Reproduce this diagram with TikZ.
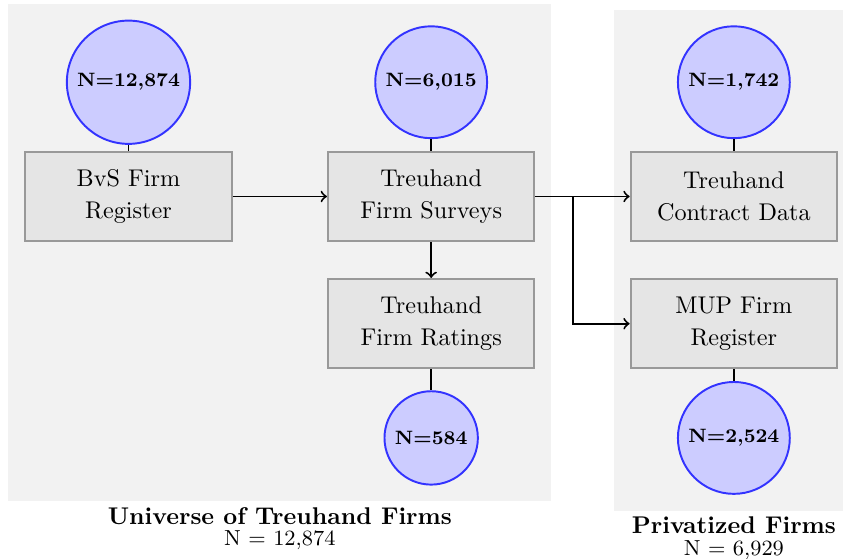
\documentclass[tikz,border=0pt]{standalone}
\usetikzlibrary{positioning,fit,backgrounds}
\tikzset{
	datasrc/.style={draw=gray!80, fill=gray!20, thick, minimum width=3cm, minimum height=1.3cm, align=center},
	count/.style={circle, draw=blue!80, fill=blue!20, thick, font=\footnotesize\bfseries},
	panel/.style={fill=gray!10, inner sep=0.23cm},
	caption/.style={align=center, inner sep=2pt},
	flow/.style={->, thick},
	link/.style={thick}
}
\begin{document}
	\begin{tikzpicture}
		\useasboundingbox (-1.867,-5.267) rectangle (10.382,2.855);
		\node[datasrc] (bvs) at (0,0) {BvS Firm\\[1pt]Register};
		\node[datasrc, right=1.37cm of bvs] (surveys) {Treuhand\\[1pt]Firm Surveys};
		\node[datasrc, below=0.52cm of surveys] (ratings) {Treuhand\\[1pt]Firm Ratings};
		\node[datasrc, right=1.37cm of surveys] (contract) {Treuhand\\[1pt]Contract Data};
		\node[datasrc, below=0.52cm of contract] (mup) {MUP Firm\\[1pt]Register};
		\node[count] (nbvs) at ([yshift=1.66cm]bvs) {N=12,874};
		\node[count] (nsurveys) at ([yshift=1.66cm]surveys) {N=6,015};
		\node[count] (nratings) at ([yshift=-1.66cm]ratings) {N=584};
		\node[count] (ncontract) at ([yshift=1.66cm]contract) {N=1,742};
		\node[count] (nmup) at ([yshift=-1.66cm]mup) {N=2,524};
		\draw[link] (nbvs) -- (bvs);
		\draw[link] (nsurveys) -- (surveys);
		\draw[link] (ratings) -- (nratings);
		\draw[link] (ncontract) -- (contract);
		\draw[link] (mup) -- (nmup);
		\draw[flow] (bvs) -- (surveys);
		\draw[flow] (surveys) -- (ratings);
		\draw[flow] (surveys) -- (contract);
		\draw[flow] (surveys.east) -- ++(0.55,0) |- (mup.west);
		\begin{scope}[on background layer]
			\node[panel, fit=(nbvs)(bvs)(surveys)(ratings)(nratings), label={[caption]below:{\textbf{Universe of Treuhand Firms}\\[-3pt]\small N = 12,874}}] (universe) {};
			\node[panel, fit=(ncontract)(contract)(mup)(nmup), label={[caption]below:{\textbf{Privatized Firms}\\[-3pt]\small N = 6,929}}] (privatized) {};
		\end{scope}
	\end{tikzpicture}
\end{document}
